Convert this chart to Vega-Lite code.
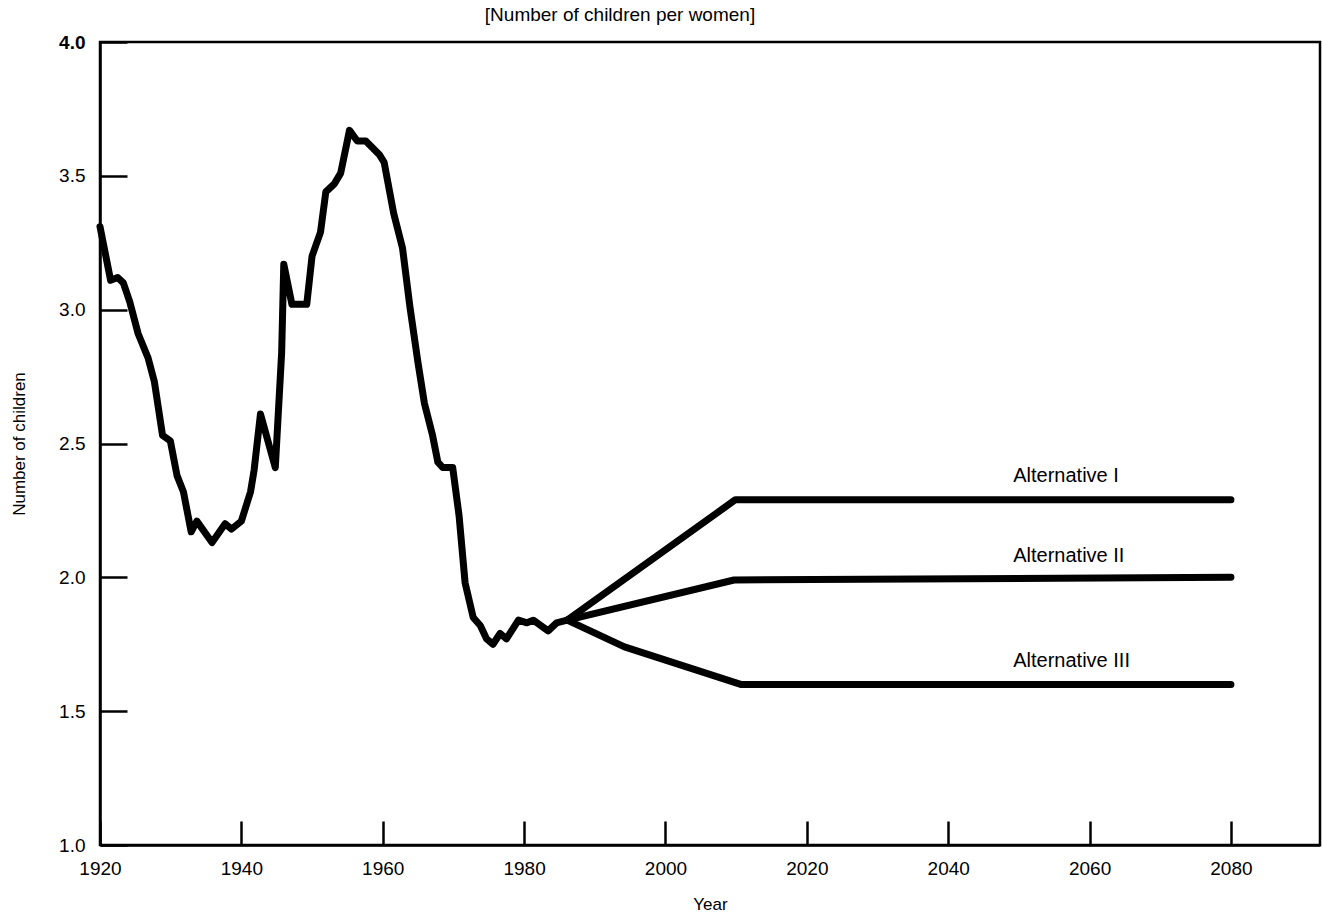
{
  "$schema": "https://vega.github.io/schema/vega-lite/v6.json",
  "autosize": {"type": "none"},
  "padding": {"left": 100, "top": 42, "right": 2, "bottom": 74},
  "width": 1220,
  "height": 803,
  "background": "white",
  "title": {"text": "[Number of children per women]", "font": "Liberation Sans", "fontSize": 19, "fontWeight": "normal", "color": "black", "anchor": "middle", "dx": -90, "offset": 8},
  "config": {
    "view": {"stroke": "black", "strokeWidth": 2.5},
    "axis": {"domainColor": "black", "domainWidth": 2.5, "tickColor": "black", "tickWidth": 2.5, "labelColor": "black", "titleColor": "black", "grid": false, "labelFont": "Liberation Sans", "titleFont": "Liberation Sans", "titleFontWeight": "normal"}
  },
  "datasets": {
    "lines": [
      {"series": "Historical", "year": 1920.0, "value": 3.31},
      {"series": "Historical", "year": 1921.5, "value": 3.11},
      {"series": "Historical", "year": 1922.5, "value": 3.12},
      {"series": "Historical", "year": 1923.3, "value": 3.10},
      {"series": "Historical", "year": 1924.2, "value": 3.03},
      {"series": "Historical", "year": 1925.4, "value": 2.91},
      {"series": "Historical", "year": 1926.8, "value": 2.82},
      {"series": "Historical", "year": 1927.7, "value": 2.73},
      {"series": "Historical", "year": 1928.85, "value": 2.53},
      {"series": "Historical", "year": 1929.95, "value": 2.51},
      {"series": "Historical", "year": 1930.9, "value": 2.38},
      {"series": "Historical", "year": 1931.8, "value": 2.32},
      {"series": "Historical", "year": 1932.9, "value": 2.17},
      {"series": "Historical", "year": 1933.7, "value": 2.21},
      {"series": "Historical", "year": 1935.85, "value": 2.13},
      {"series": "Historical", "year": 1937.7, "value": 2.20},
      {"series": "Historical", "year": 1938.6, "value": 2.18},
      {"series": "Historical", "year": 1940.0, "value": 2.21},
      {"series": "Historical", "year": 1941.3, "value": 2.32},
      {"series": "Historical", "year": 1941.8, "value": 2.40},
      {"series": "Historical", "year": 1942.7, "value": 2.61},
      {"series": "Historical", "year": 1944.8, "value": 2.41},
      {"series": "Historical", "year": 1945.7, "value": 2.84},
      {"series": "Historical", "year": 1946.0, "value": 3.17},
      {"series": "Historical", "year": 1947.15, "value": 3.02},
      {"series": "Historical", "year": 1949.25, "value": 3.02},
      {"series": "Historical", "year": 1950.0, "value": 3.20},
      {"series": "Historical", "year": 1951.2, "value": 3.29},
      {"series": "Historical", "year": 1951.95, "value": 3.44},
      {"series": "Historical", "year": 1953.15, "value": 3.47},
      {"series": "Historical", "year": 1954.05, "value": 3.51},
      {"series": "Historical", "year": 1955.3, "value": 3.67},
      {"series": "Historical", "year": 1956.4, "value": 3.63},
      {"series": "Historical", "year": 1957.6, "value": 3.63},
      {"series": "Historical", "year": 1959.5, "value": 3.58},
      {"series": "Historical", "year": 1960.2, "value": 3.55},
      {"series": "Historical", "year": 1961.55, "value": 3.36},
      {"series": "Historical", "year": 1962.8, "value": 3.23},
      {"series": "Historical", "year": 1963.85, "value": 3.01},
      {"series": "Historical", "year": 1965.0, "value": 2.80},
      {"series": "Historical", "year": 1965.9, "value": 2.65},
      {"series": "Historical", "year": 1967.05, "value": 2.53},
      {"series": "Historical", "year": 1967.8, "value": 2.43},
      {"series": "Historical", "year": 1968.5, "value": 2.41},
      {"series": "Historical", "year": 1969.9, "value": 2.41},
      {"series": "Historical", "year": 1970.8, "value": 2.23},
      {"series": "Historical", "year": 1971.65, "value": 1.98},
      {"series": "Historical", "year": 1972.8, "value": 1.85},
      {"series": "Historical", "year": 1973.8, "value": 1.82},
      {"series": "Historical", "year": 1974.7, "value": 1.77},
      {"series": "Historical", "year": 1975.6, "value": 1.75},
      {"series": "Historical", "year": 1976.6, "value": 1.79},
      {"series": "Historical", "year": 1977.5, "value": 1.77},
      {"series": "Historical", "year": 1979.2, "value": 1.84},
      {"series": "Historical", "year": 1980.4, "value": 1.83},
      {"series": "Historical", "year": 1981.3, "value": 1.84},
      {"series": "Historical", "year": 1983.4, "value": 1.80},
      {"series": "Historical", "year": 1984.6, "value": 1.83},
      {"series": "Historical", "year": 1986.1, "value": 1.84},
      {"series": "Alternative I", "year": 1986.1, "value": 1.84},
      {"series": "Alternative I", "year": 2009.9, "value": 2.29},
      {"series": "Alternative I", "year": 2080.0, "value": 2.29},
      {"series": "Alternative II", "year": 1986.1, "value": 1.84},
      {"series": "Alternative II", "year": 2009.7, "value": 1.99},
      {"series": "Alternative II", "year": 2080.0, "value": 2.00},
      {"series": "Alternative III", "year": 1986.1, "value": 1.84},
      {"series": "Alternative III", "year": 1994.2, "value": 1.74},
      {"series": "Alternative III", "year": 2010.65, "value": 1.60},
      {"series": "Alternative III", "year": 2080.0, "value": 1.60}
    ],
    "labels": [
      {"label": "Alternative I", "year": 2049.2, "value": 2.356},
      {"label": "Alternative II", "year": 2049.2, "value": 2.057},
      {"label": "Alternative III", "year": 2049.2, "value": 1.665}
    ]
  },
  "layer": [
    {
      "data": {"name": "lines"},
      "mark": {"type": "line", "color": "black", "strokeWidth": 7, "strokeJoin": "round", "strokeCap": "round"},
      "encoding": {
        "x": {"field": "year", "type": "quantitative", "scale": {"domain": [1920, 2092.6], "nice": false, "zero": false},
          "axis": {"title": "Year", "titleFontSize": 17, "titlePadding": 18, "values": [1920, 1940, 1960, 1980, 2000, 2020, 2040, 2060, 2080], "format": "d", "labelFontSize": 19, "tickSize": -24, "labelPadding": 38, "labelFlush": false}},
        "y": {"field": "value", "type": "quantitative", "scale": {"domain": [1, 4], "nice": false, "zero": false},
          "axis": {"title": "Number of children", "titleFontSize": 17, "titlePadding": 30, "values": [1, 1.5, 2, 2.5, 3, 3.5, 4], "format": ".1f", "labelFontSize": 19, "tickSize": -27, "labelPadding": 42, "labelFlush": false,
            "labelFontWeight": {"condition": {"test": "datum.value == 4", "value": "bold"}, "value": "normal"}}},
        "detail": {"field": "series", "type": "nominal"},
        "order": {"field": "year", "type": "quantitative"}
      }
    },
    {
      "data": {"name": "labels"},
      "mark": {"type": "text", "align": "left", "baseline": "alphabetic", "font": "Liberation Sans", "fontSize": 20, "color": "black"},
      "encoding": {
        "x": {"field": "year", "type": "quantitative"},
        "y": {"field": "value", "type": "quantitative"},
        "text": {"field": "label", "type": "nominal"}
      }
    }
  ]
}
